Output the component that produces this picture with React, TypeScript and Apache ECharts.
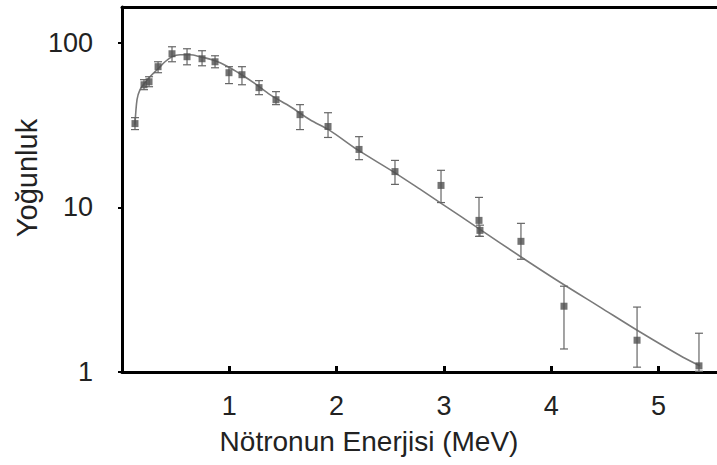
import React, { useEffect, useRef } from "react";
import * as echarts from "echarts";

// Measured data points (energy MeV, intensity) with error bar bounds
const pointEnergy = [0.121, 0.205, 0.252, 0.336, 0.466, 0.606, 0.746, 0.867, 0.997, 1.118, 1.277, 1.435, 1.659, 1.92, 2.209, 2.544, 2.973, 3.327, 3.336, 3.718, 4.119, 4.8, 5.377];
const pointIntensity = [32.3, 55.6, 58.0, 71.6, 85.8, 82.3, 80.0, 76.7, 65.8, 64.0, 53.4, 45.1, 36.6, 31.0, 22.5, 16.5, 13.6, 8.34, 7.25, 6.22, 2.51, 1.56, 1.09];
const errLow = [29.7, 51.9, 54.1, 65.8, 76.7, 73.5, 72.5, 70.5, 56.5, 55.6, 48.4, 42.1, 29.7, 26.6, 19.5, 13.8, 10.7, 6.67, 6.67, 4.84, 1.38, 1.07, 1.01];
const errHigh = [35.1, 59.7, 62.2, 76.7, 94.6, 92.0, 89.5, 83.4, 71.6, 71.6, 58.9, 50.5, 42.1, 37.6, 26.9, 19.3, 16.8, 11.5, 7.8, 8.0, 3.32, 2.48, 1.72];

// Fitted curve
const curveEnergy = [0.121, 0.14, 0.168, 0.214, 0.261, 0.336, 0.401, 0.466, 0.541, 0.634, 0.727, 0.867, 0.988, 1.1, 1.24, 1.379, 1.566, 1.752, 1.939, 2.19, 2.526, 2.777, 2.964, 3.336, 3.709, 4.082, 4.455, 4.828, 5.228, 5.387];
const curveIntensity = [31.8, 45.1, 51.9, 57.2, 62.2, 69.5, 76.7, 82.3, 84.6, 84.6, 82.3, 77.8, 71.6, 64.9, 56.5, 48.4, 41.0, 34.1, 29.3, 22.5, 16.5, 12.9, 10.7, 7.36, 5.05, 3.51, 2.48, 1.75, 1.23, 1.09];

const xTickLabels = ["1", "2", "3", "4", "5"];
const yTickLabels = ["1", "10", "100"];

const FONT = "'Liberation Sans', Arial, sans-serif";

export default function App() {
  const ref = useRef<HTMLDivElement>(null);
  useEffect(() => {
    if (!ref.current) return;
    const chart = echarts.init(ref.current, null, { renderer: "svg" });
    const errData = pointEnergy.map((e, i) => [e, errLow[i], errHigh[i]]);
    chart.setOption({
      animation: false,
      backgroundColor: "#ffffff",
      grid: { left: 122, right: 0, top: 7, bottom: 93 },
      xAxis: [
        {
          type: "value",
          min: 0,
          max: 5.545,
          interval: 1,
          axisLine: { show: true, lineStyle: { color: "#000", width: 3 } },
          axisTick: { show: true, inside: true, length: 6, lineStyle: { color: "#000", width: 3 } },
          splitLine: { show: false },
          axisLabel: {
            margin: 20,
            fontSize: 27,
            fontFamily: FONT,
            color: "#222",
            showMinLabel: false,
            showMaxLabel: false,
            formatter: (v: number) => {
              const s = String(Math.round(v));
              return Math.abs(v - Math.round(v)) < 1e-6 && xTickLabels.includes(s) ? s : "";
            },
          },
        },
        {
          type: "value",
          position: "top",
          min: 0,
          max: 5.545,
          axisLine: { show: true, lineStyle: { color: "#000", width: 3 } },
          axisTick: { show: false },
          axisLabel: { show: false },
          splitLine: { show: false },
        },
      ],
      yAxis: {
        type: "log",
        logBase: 10,
        min: 1,
        max: 165,
        axisLine: { show: true, lineStyle: { color: "#000", width: 3 } },
        axisTick: { show: true, inside: false, length: 4, lineStyle: { color: "#000", width: 2 } },
        splitLine: { show: false },
        axisLabel: {
          margin: 29,
          fontSize: 27,
          fontFamily: FONT,
          color: "#222",
          showMaxLabel: false,
          formatter: (v: number) => {
            const s = String(Math.round(v));
            return Math.abs(v - Math.round(v)) < 1e-6 && yTickLabels.includes(s) ? s : "";
          },
        },
      },
      graphic: [
        {
          type: "text",
          x: 369,
          y: 441,
          style: {
            text: "Nötronun Enerjisi (MeV)",
            x: 0,
            y: 0,
            textAlign: "center",
            textVerticalAlign: "middle",
            font: `28px ${FONT}`,
            fill: "#222",
          },
        },
        {
          type: "text",
          x: 27,
          y: 178,
          rotation: Math.PI / 2,
          style: {
            text: "Yoğunluk",
            x: 0,
            y: 0,
            textAlign: "center",
            textVerticalAlign: "middle",
            font: `29px ${FONT}`,
            fill: "#222",
          },
        },
      ],
      series: [
        {
          type: "line",
          data: curveEnergy.map((e, i) => [e, curveIntensity[i]]),
          showSymbol: false,
          smooth: 0.3,
          lineStyle: { color: "#7a7a7a", width: 1.6 },
          z: 2,
        },
        {
          type: "custom",
          data: errData,
          renderItem: (params: any, api: any) => {
            const x = api.value(0);
            const lo = api.value(1);
            const hi = api.value(2);
            const pHi = api.coord([x, hi]);
            const pLo = api.coord([x, lo]);
            const cap = 4;
            const st = { stroke: "#666", lineWidth: 1.2 };
            return {
              type: "group",
              children: [
                { type: "line", shape: { x1: pHi[0], y1: pHi[1], x2: pLo[0], y2: pLo[1] }, style: st },
                { type: "line", shape: { x1: pHi[0] - cap, y1: pHi[1], x2: pHi[0] + cap, y2: pHi[1] }, style: st },
                { type: "line", shape: { x1: pLo[0] - cap, y1: pLo[1], x2: pLo[0] + cap, y2: pLo[1] }, style: st },
              ],
            };
          },
          z: 3,
        },
        {
          type: "scatter",
          data: pointEnergy.map((e, i) => [e, pointIntensity[i]]),
          symbol: "rect",
          symbolSize: 7,
          itemStyle: { color: "#505050" },
          z: 4,
        },
      ],
    });
    return () => chart.dispose();
  }, []);
  return (
    <div
      ref={ref}
      style={{ position: "fixed", left: 0, top: 0, width: 717, height: 465, background: "#fff" }}
    />
  );
}
